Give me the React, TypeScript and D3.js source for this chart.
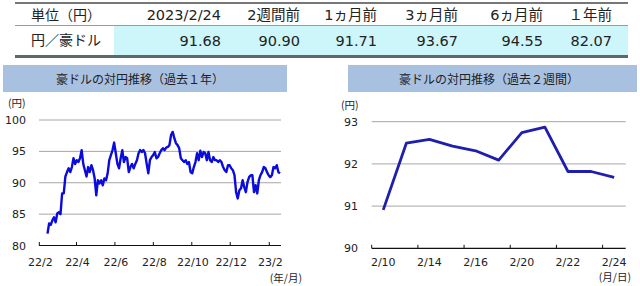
import React from "react";
import * as d3 from "d3";

const tableHeaders = ["単位（円）", "2023/2/24", "2週間前", "1ヵ月前", "3ヵ月前", "6ヵ月前", "１年前"];
const tableRowLabel = "円／豪ドル";
const tableValues = [91.68, 90.9, 91.71, 93.67, 94.55, 82.07];

const yearTitle = "豪ドルの対円推移（過去１年）";
const weekTitle = "豪ドルの対円推移（過去２週間）";

const yearStart = new Date(2022, 1, 14);
const yearEnd = new Date(2023, 1, 18);
const yearValues = [
  81.9, 83.5, 83.3, 84, 84.5, 83.7, 85.1, 85.3, 85, 88.3, 88.3, 91, 91.7, 92.3, 91.7, 92.5,
  93.9, 93, 93.6, 93.3, 93.9, 95.2, 93, 92, 91, 92.5, 91.7, 92.8, 92, 90.7, 88, 90.4, 89.9,
  90.4, 89.6, 90.7, 90.4, 91.5, 93.6, 94.4, 95.2, 96.4, 94.7, 93, 92.3, 93.9, 95.2, 93.3,
  94.1, 93.9, 91.7, 92.5, 93, 92.3, 93, 93.6, 94.7, 95.2, 94.9, 95.2, 94.7, 93, 91.5, 93.6,
  94.1, 94.4, 94.9, 93.9, 94.1, 94.7, 95.2, 95.5, 95.2, 95.6, 95.7, 96, 97.6, 98.1, 97.1,
  96.3, 96, 95.5, 93.9, 93.6, 93.3, 93.6, 93, 93.3, 91.7, 91.5, 92.5, 93.3, 94.7, 93.6, 95.1,
  94.1, 94.9, 94.7, 93.6, 94.9, 93.6, 93.3, 94.1, 93.6, 93.6, 93.3, 93.6, 93.3, 92.5, 92,
  91.7, 92.8, 92.8, 92.3, 92, 91.2, 88.5, 87.5, 88.8, 89.1, 90.4, 89.3, 88.5, 90.1, 90.9,
  91.2, 91.2, 88.5, 89.6, 88.3, 90.4, 91.2, 91.7, 92.5, 92.3, 91.7, 91.2, 90.9, 91.2, 92.5,
  92.3, 92.8, 91.7, 91.5,
];
const yearTickLabels = ["22/2", "22/4", "22/6", "22/8", "22/10", "22/12", "23/2"];
const yearYTicks = [80, 85, 90, 95, 100];

const weekDates = ["2/10", "2/13", "2/14", "2/15", "2/16", "2/17", "2/20", "2/21", "2/22", "2/23", "2/24"];
const weekValues = [90.91, 92.49, 92.58, 92.42, 92.31, 92.09, 92.74, 92.87, 91.82, 91.82, 91.68];
const weekLabels = ["2/10", "2/14", "2/16", "2/20", "2/22", "2/24"];
const weekYTicks = [90, 91, 92, 93];

const FONT = "'DejaVu Sans', 'Noto Sans CJK JP', sans-serif";
const CJK = "'Noto Sans CJK JP', sans-serif";

function Table() {
  const colRight = [221, 300, 377, 458, 543, 612];
  return (
    <g fontFamily={FONT} fill="#222">
      <rect x={114} y={26} width={514} height={29} fill="#cdf6fa" />
      <line x1={15} x2={628} y1={3} y2={3} stroke="#4a4a4a" strokeWidth={1.5} />
      <line x1={15} x2={628} y1={25.5} y2={25.5} stroke="#9a9a9a" strokeWidth={1} />
      <line x1={15} x2={628} y1={56.5} y2={56.5} stroke="#5a6a6a" strokeWidth={3} />
      <text x={31} y={20} fontSize={14} fontFamily={CJK}>{tableHeaders[0]}</text>
      {tableHeaders.slice(1).map((h, i) => (
        <text key={h} x={colRight[i]} y={20} fontSize={14.5} textAnchor="end">{h}</text>
      ))}
      <text x={31} y={45} fontSize={14} fontFamily={CJK}>{tableRowLabel}</text>
      {tableValues.map((v, i) => (
        <text key={i} x={colRight[i]} y={45.5} fontSize={14.5} textAnchor="end">{v.toFixed(2)}</text>
      ))}
    </g>
  );
}

function YearChart() {
  const x = d3.scaleTime().domain([new Date(2022, 1, 1), new Date(2023, 1, 1)]).range([39.3, 269.3]);
  const y = d3.scaleLinear().domain([80, 100]).range([245.5, 120]);
  const step = (yearEnd.getTime() - yearStart.getTime()) / (yearValues.length - 1);
  const pts = yearValues.map((v, i) => ({ d: new Date(yearStart.getTime() + i * step), v }));
  const line = d3.line<{ d: Date; v: number }>().x((p) => x(p.d)).y((p) => y(p.v));
  const ticks = yearTickLabels.map((l) => {
    const [yy, mm] = l.split("/").map(Number);
    return { l, d: new Date(2000 + yy, mm - 1, 1) };
  });
  const x0 = 39, x1 = 281;
  return (
    <g fontFamily={FONT} fill="#222">
      <rect x={3} y={65} width={284} height={27} fill="#a9c1e1" />
      <text x={140} y={83.5} fontSize={12} fontFamily={CJK} textAnchor="middle">{yearTitle}</text>
      <text x={8} y={107} fontSize={10.5} fontFamily={CJK}>(円)</text>
      {yearYTicks.map((t) => (
        <g key={t}>
          {t !== 80 && <line x1={x0} x2={x1} y1={y(t)} y2={y(t)} stroke="#a6a6a6" strokeWidth={1} />}
          <text x={26} y={y(t) + 4} fontSize={11} textAnchor="end">{t}</text>
        </g>
      ))}
      <line x1={x0} x2={x1} y1={y(80)} y2={y(80)} stroke="#111" strokeWidth={1.2} />
      {ticks.map((t) => (
        <g key={t.l}>
          <line x1={x(t.d)} x2={x(t.d)} y1={y(80)} y2={y(80) - 3.5} stroke="#111" strokeWidth={1} />
          <text x={x(t.d) + 1} y={266} fontSize={11} textAnchor="middle">{t.l}</text>
        </g>
      ))}
      <text x={302} y={282} fontSize={10.5} fontFamily={CJK} textAnchor="end">(年/月)</text>
      <path d={line(pts) || ""} fill="none" stroke="#0b0bdc" strokeWidth={2.4} strokeLinejoin="round" />
    </g>
  );
}

function WeekChart() {
  const x = d3.scaleBand<string>().domain(weekDates).range([371.7, 625.7]).paddingInner(0).paddingOuter(0);
  const y = d3.scaleLinear().domain([90, 93]).range([248.3, 121.7]);
  const cx = (d: string) => (x(d) as number) + x.bandwidth() / 2;
  const line = d3.line<number>().x((_, i) => cx(weekDates[i])).y((v) => y(v));
  const x0 = 371.7, x1 = 625.7;
  return (
    <g fontFamily={FONT} fill="#222">
      <rect x={348} y={65} width={289} height={27} fill="#a9c1e1" />
      <text x={489} y={83.5} fontSize={12} fontFamily={CJK} textAnchor="middle">{weekTitle}</text>
      <text x={341} y={109} fontSize={10.5} fontFamily={CJK}>(円)</text>
      {weekYTicks.map((t) => (
        <g key={t}>
          {t !== 90 && <line x1={x0} x2={x1} y1={y(t)} y2={y(t)} stroke="#a6a6a6" strokeWidth={1} />}
          <text x={358} y={y(t) + 4} fontSize={11} textAnchor="end">{t}</text>
        </g>
      ))}
      <line x1={x0} x2={x1} y1={y(90)} y2={y(90)} stroke="#111" strokeWidth={1.2} />
      {weekLabels.map((d) => (
        <g key={d}>
          <line x1={x(d)!} x2={x(d)!} y1={y(90)} y2={y(90) - 3.5} stroke="#111" strokeWidth={1} />
          <text x={cx(d)} y={266} fontSize={11} textAnchor="middle">{d}</text>
        </g>
      ))}
      <text x={631} y={281} fontSize={10.5} fontFamily={CJK} textAnchor="end">(月/日)</text>
      <path d={line(weekValues) || ""} fill="none" stroke="#1f1fae" strokeWidth={2.8} strokeLinejoin="round" />
    </g>
  );
}

export default function App() {
  return (
    <div style={{ position: "fixed", left: 0, top: 0, width: 640, height: 286, background: "#fff" }}>
      <svg width={640} height={286} viewBox="0 0 640 286">
        <rect width={640} height={286} fill="#fff" />
        <Table />
        <YearChart />
        <WeekChart />
      </svg>
    </div>
  );
}
